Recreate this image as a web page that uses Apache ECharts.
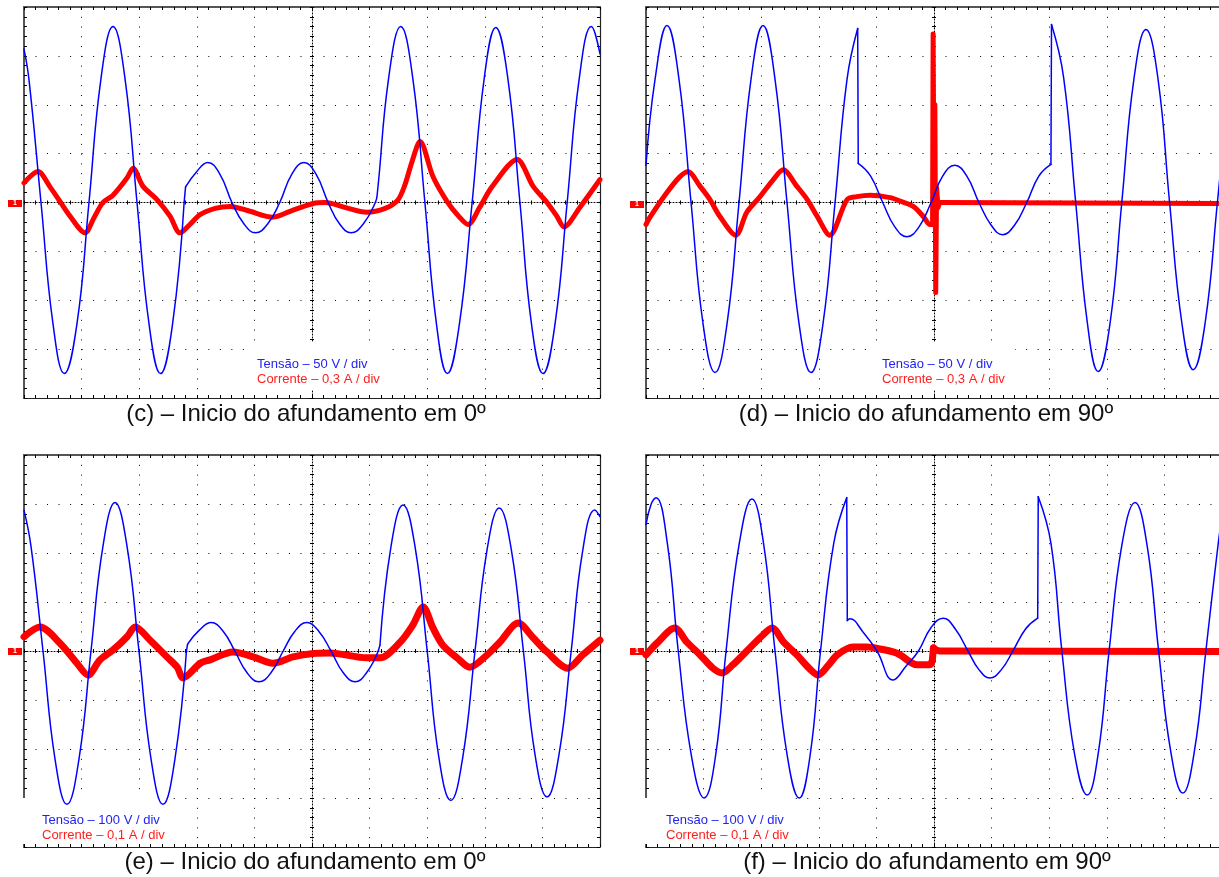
<!DOCTYPE html>
<html><head><meta charset="utf-8">
<script src="https://cdn.jsdelivr.net/npm/echarts@6/dist/echarts.min.js"></script>
<style>html,body{margin:0;padding:0;background:#fff}#c{width:1219px;height:877px}</style>
</head><body><div id="c"></div>
<script>
// Time in ms (10 ms/div, 0..100 ms). Voltage in V, current in A.
const tensaoC = [[0,157],[0.86,126],[2.95,0],[5.03,-124],[7.0,-175],[9.2,-124],[11.28,0],[13.37,127],[15.45,180],[17.53,127],[19.62,0],[21.7,-124],[23.7,-175],[25.8,-124],[27.8,0],[28.05,16],[29.9,31],[31.9,41],[34.0,29],[36.1,0],[38.2,-22],[40.2,-31],[42.3,-22],[44.4,0],[46.5,29],[48.6,41],[50.7,29],[52.8,0],[54.8,-22],[56.8,-31],[58.9,-22],[61.0,0],[61.35,10],[63.3,127],[65.4,180],[67.5,127],[69.6,0],[71.6,-124],[73.5,-175],[75.6,-124],[77.8,0],[79.9,127],[81.9,179],[84.0,127],[86.1,0],[88.1,-124],[90.1,-175],[92.2,-124],[94.3,0],[96.4,127],[98.5,180],[100,152]];
const correnteC = [[0,0.12],[2.43,0.19],[4.51,0.096],[6.25,0.006],[7.99,-0.084],[10.59,-0.186],[12.2,-0.09],[13.7,0],[15.45,0.045],[17.88,0.15],[18.92,0.21],[20.66,0.099],[23.09,0.018],[25.35,-0.084],[27.08,-0.186],[28.8,-0.135],[30.56,-0.075],[33.2,-0.036],[35.8,-0.024],[39.2,-0.054],[43.2,-0.09],[46.2,-0.054],[50.2,-0.006],[52.3,0],[55.7,-0.03],[59.5,-0.06],[62.7,-0.036],[64.9,0.015],[66.1,0.105],[67.4,0.255],[68.75,0.375],[71.0,0.159],[73.4,0.009],[75.6,-0.09],[77.1,-0.135],[79.1,-0.03],[81.3,0.099],[85.6,0.264],[88.4,0.099],[90.8,0],[92.5,-0.084],[93.75,-0.15],[96.5,-0.03],[100,0.141]];

const tensaoD = [[0,38],[1.57,126],[3.65,181],[5.73,126],[7.82,0],[9.9,-124],[11.98,-174],[14.07,-124],[16.15,0],[18.23,126],[20.32,181],[22.4,126],[24.48,0],[26.57,-124],[28.65,-174],[30.73,-124],[32.82,0],[34.9,126],[36.75,178],[36.85,40],[39.0,27],[41.1,0],[43.2,-25],[45.3,-35],[47.4,-25],[49.5,0],[51.5,27],[53.6,38],[55.7,27],[57.8,0],[59.9,-23],[61.9,-33],[64.0,-23],[66.1,0],[68.2,27],[70.3,39],[70.4,182],[72.5,128],[74.6,0],[76.6,-122],[78.5,-173],[80.6,-122],[82.6,0],[84.7,126],[86.8,177],[88.9,126],[90.9,0],[93.0,-122],[95.0,-171],[97.1,-122],[99.2,0],[100,48]];
const correnteD = [[0,-0.135],[0.7,-0.09],[3.6,0.06],[5.9,0.159],[7.3,0.189],[9.4,0.099],[11.1,0.018],[12.8,-0.084],[15.6,-0.201],[17.5,-0.06],[19.8,0.036],[22.1,0.141],[23.8,0.201],[26.2,0.099],[28.0,0.018],[29.7,-0.084],[31.9,-0.201],[34.9,0.018],[36.6,0.036],[38.9,0.045],[42.4,0.03],[44.1,0.009],[46.4,-0.024],[48.1,-0.084],[49.3,-0.135],[49.75,-0.135],[49.85,1.035],[50.0,-0.09],[50.15,0.6],[50.3,-0.552],[50.45,0.09],[50.7,-0.03],[51.0,0],[100,-0.006]];

const tensaoE = [[0,287],[1.21,214],[3.30,0],[5.38,-220],[7.46,-313],[9.55,-220],[11.63,0],[13.71,214],[15.8,303],[17.88,214],[19.96,0],[22.05,-220],[24.13,-313],[26.21,-220],[28.2,0],[28.4,14],[30.4,42],[32.5,58],[34.6,40],[36.6,0],[38.7,-44],[40.8,-63],[42.9,-44],[45.0,0],[47.0,40],[49.1,58],[51.2,40],[53.3,0],[55.4,-44],[57.5,-63],[59.5,-44],[61.5,0],[61.8,12],[63.7,212],[65.8,298],[67.9,212],[70.0,0],[72.0,-215],[74.1,-305],[76.2,-215],[78.3,0],[80.4,207],[82.5,292],[84.6,207],[86.7,0],[88.7,-210],[90.8,-298],[92.9,-210],[95.0,0],[97.0,205],[99.1,288],[100,274]];
const correnteE = [[0,0.029],[2.78,0.049],[6.25,0.016],[9.2,-0.025],[11.1,-0.049],[13.2,-0.018],[15.45,0.002],[17.9,0.029],[19.3,0.049],[21.9,0.022],[24.8,-0.012],[26.6,-0.033],[27.6,-0.055],[30.6,-0.025],[32.3,-0.018],[36.3,-0.002],[39.8,-0.012],[43.2,-0.025],[46.7,-0.012],[50.2,-0.005],[53.1,-0.004],[59.5,-0.014],[61.8,-0.014],[65.3,0.018],[67.5,0.053],[69.3,0.09],[71.0,0.047],[72.7,0.012],[75.2,-0.014],[77.4,-0.033],[80.4,-0.008],[82.6,0.018],[85.8,0.057],[88.4,0.027],[90.8,-0.002],[94.4,-0.035],[97.0,-0.008],[100,0.022]];

const tensaoF = [[0,258],[0.9,300],[1.74,313],[3.7,220],[5.6,0],[7.9,-215],[10.1,-300],[12.1,-212],[13.9,0],[16.2,220],[18.4,310],[20.4,220],[22.4,0],[24.5,-212],[26.6,-300],[28.5,-212],[30.3,0],[32.6,220],[34.85,313],[34.95,62],[35.4,66],[37.6,40],[40.1,0],[42.9,-59],[45.2,-30],[47.3,0],[49.5,48],[51.6,67],[53.7,45],[55.9,0],[57.8,-38],[59.7,-55],[61.7,-38],[63.7,0],[65.9,45],[68.0,67],[68.1,315],[70.3,220],[72.2,0],[74.4,-210],[76.6,-294],[78.5,-210],[80.4,0],[82.6,215],[84.9,303],[87.0,215],[89.0,0],[91.1,-205],[93.2,-290],[95.2,-205],[97.2,0],[99.4,225],[100,270]];
const correnteF = [[0,-0.008],[1.9,0.016],[5.0,0.047],[7.1,0.018],[9.4,-0.008],[11.6,-0.035],[13.2,-0.045],[15.1,-0.028],[17.5,0],[19.8,0.027],[21.9,0.047],[23.9,0.018],[26.2,-0.008],[28.3,-0.035],[29.9,-0.049],[31.6,-0.03],[33.2,-0.008],[35.9,0.008],[38.4,0.008],[40.6,0.004],[42.9,-0.002],[44.1,-0.008],[47.0,-0.028],[49.3,-0.028],[49.7,-0.02],[49.9,0.006],[51,0],[100,-0.001]];

const escalaTensao = [50, 50, 100, 100];      // V/div
const escalaCorrente = [0.3, 0.3, 0.1, 0.1];  // A/div
const legendaTensao = ['Tensão – 50 V / div','Tensão – 50 V / div','Tensão – 100 V / div','Tensão – 100 V / div'];
const legendaCorrente = ['Corrente – 0,3 A / div','Corrente – 0,3 A / div','Corrente – 0,1 A / div','Corrente – 0,1 A / div'];
const legendas = ['(c) – Inicio do afundamento em 0º','(d) – Inicio do afundamento em 90º','(e) – Inicio do afundamento em 0º','(f) – Inicio do afundamento em 90º'];

const tensoes = [tensaoC, tensaoD, tensaoE, tensaoF];
const correntes = [correnteC, correnteD, correnteE, correnteF];

// layout
const layout = [
  {left:24, top:7, h:391, capX:306, capY:414, legX:257, legY:371, iw:5, mark:[8,200], box:[250,342,140,48]},
  {left:646, top:7, h:391, capX:926, capY:414, legX:882, legY:371, iw:5, mark:[630,201], box:[875,342,140,48]},
  {left:24, top:455, h:392, capX:305, capY:862, legX:42, legY:827, iw:7, mark:[8,648], box:[23,798,150,46]},
  {left:646, top:455, h:392, capX:927, capY:862, legX:666, legY:827, iw:7, mark:[630,648], box:[645,798,150,46]}
];
const W = 576;

function split(data, gap){
  const smooth = [], jumps = [];
  for (let k = 0; k < data.length; k++){
    if (k > 0 && data[k][0] - data[k-1][0] < gap){
      smooth.push([data[k][0], '-']);
      jumps.push(data[k-1], data[k], [data[k][0], '-']);
    }
    smooth.push(data[k]);
  }
  return {smooth, jumps};
}

const grid = [], xAxis = [], yAxis = [], series = [], elements = [];
const tick = (len, inside) => ({show:true, inside:inside, length:len, lineStyle:{color:'#000', width:1}});
const minor = (len) => ({show:true, splitNumber:5, length:len, lineStyle:{color:'#000', width:1}});

layout.forEach((p, g) => {
  grid.push({left:p.left, top:p.top, width:W, height:p.h, containLabel:false, outerBoundsMode:'none'});
  const vd = escalaTensao[g], id = escalaCorrente[g];
  const yv = yAxis.length;
  const yBase = {type:'value', gridIndex:g, min:-4*vd, max:4*vd, interval:vd, axisLabel:{show:false}, splitLine:{show:false}};
  yAxis.push(Object.assign({}, yBase, {position:'left',
    axisLine:{show:true, onZero:false, lineStyle:{color:'#555', width:2}},
    axisTick:tick(3,true), minorTick:minor(3),
    splitLine:{show:true, lineStyle:{color:'#000', width:1, type:[1, W/50 - 1]}}}));
  yAxis.push(Object.assign({}, yBase, {position:'right',
    axisLine:{show:true, onZero:false, lineStyle:{color:'#222', width:1.2}},
    axisTick:tick(3,true), minorTick:minor(3)}));
  yAxis.push(Object.assign({}, yBase, {position:'left', offset:-W/2,
    axisLine:{show:true, onZero:false, lineStyle:{color:'#000', width:1, type:[1,2]}},
    axisTick:tick(2,true), minorTick:minor(2)}));
  yAxis.push(Object.assign({}, yBase, {position:'left', offset:-W/2,
    axisLine:{show:false, onZero:false},
    axisTick:tick(2,false), minorTick:minor(2)}));
  const yi = yAxis.length;
  yAxis.push({type:'value', gridIndex:g, min:-4*id, max:4*id, show:false});

  const xb = xAxis.length;
  const xBase = {type:'value', gridIndex:g, min:0, max:100, interval:10, axisLabel:{show:false}, splitLine:{show:false}};
  xAxis.push(Object.assign({}, xBase, {position:'bottom',
    axisLine:{show:true, onZero:false, lineStyle:{color:'#222', width:1.2}},
    axisTick:tick(3,true), minorTick:minor(3),
    splitLine:{show:true, lineStyle:{color:'#000', width:1, type:[1, p.h/40 - 1]}}}));
  xAxis.push(Object.assign({}, xBase, {position:'top',
    axisLine:{show:true, onZero:false, lineStyle:{color:'#555', width:2}},
    axisTick:tick(3,true), minorTick:minor(3)}));
  xAxis.push(Object.assign({}, xBase, {position:'bottom',
    axisLine:{show:true, onZero:true, onZeroAxisIndex:yv, lineStyle:{color:'#000', width:1, type:[1,2]}},
    axisTick:tick(2,true), minorTick:minor(2)}));
  xAxis.push(Object.assign({}, xBase, {position:'bottom',
    axisLine:{show:false, onZero:true, onZeroAxisIndex:yv},
    axisTick:tick(2,false), minorTick:minor(2)}));

  const addWave = (data, yIdx, color, width, sm) => {
    const s = split(data, 0.3);
    series.push({type:'line', xAxisIndex:xb, yAxisIndex:yIdx, data:s.smooth, smooth:sm, showSymbol:false, symbol:'none',
      lineStyle:{color:color, width:width, cap:'round', join:'round'}, silent:true, z:3});
    series.push({type:'line', xAxisIndex:xb, yAxisIndex:yIdx, data:s.jumps, smooth:false, showSymbol:false, symbol:'none',
      lineStyle:{color:color, width:width, cap:'round', join:'round'}, silent:true, z:3});
  };
  addWave(correntes[g], yi, '#ff0000', p.iw, 0.3);
  addWave(tensoes[g], yv, '#0000ff', 1.5, 0.45);

  elements.push({type:'rect', shape:{x:p.box[0], y:p.box[1], width:p.box[2], height:p.box[3]}, style:{fill:'#ffffff'}, silent:true, z:1});
  elements.push({type:'text', x:p.capX, y:p.capY, silent:true, style:{text:legendas[g], fill:'#111',
    font:'24px "Liberation Sans", Arial, sans-serif', align:'center', verticalAlign:'middle', textAlign:'center', textVerticalAlign:'middle'}});
  elements.push({type:'text', x:p.legX, y:p.legY, silent:true, z:2, style:{text:legendaTensao[g], fill:'#2323f0',
    font:'13px "Liberation Sans", Arial, sans-serif', align:'left', verticalAlign:'bottom', textAlign:'left', textVerticalAlign:'bottom'}});
  elements.push({type:'text', x:p.legX, y:p.legY + 15, silent:true, z:2, style:{text:legendaCorrente[g], fill:'#ff2020',
    font:'13px "Liberation Sans", Arial, sans-serif', align:'left', verticalAlign:'bottom', textAlign:'left', textVerticalAlign:'bottom'}});
  elements.push({type:'rect', shape:{x:p.mark[0], y:p.mark[1], width:14, height:7}, style:{fill:'#ff0000'}, silent:true, z:2});
  elements.push({type:'text', x:p.mark[0]+7, y:p.mark[1]+3.5, silent:true, z:2, style:{text:'1', fill:'#fff',
    font:'bold 7px sans-serif', align:'center', verticalAlign:'middle', textAlign:'center', textVerticalAlign:'middle'}});
});

const chart = echarts.init(document.getElementById('c'), null, {renderer:'canvas'});
chart.setOption({
  animation:false,
  backgroundColor:'#ffffff',
  grid: grid, xAxis: xAxis, yAxis: yAxis, series: series,
  graphic: {elements: elements}
});
</script>
</body></html>
